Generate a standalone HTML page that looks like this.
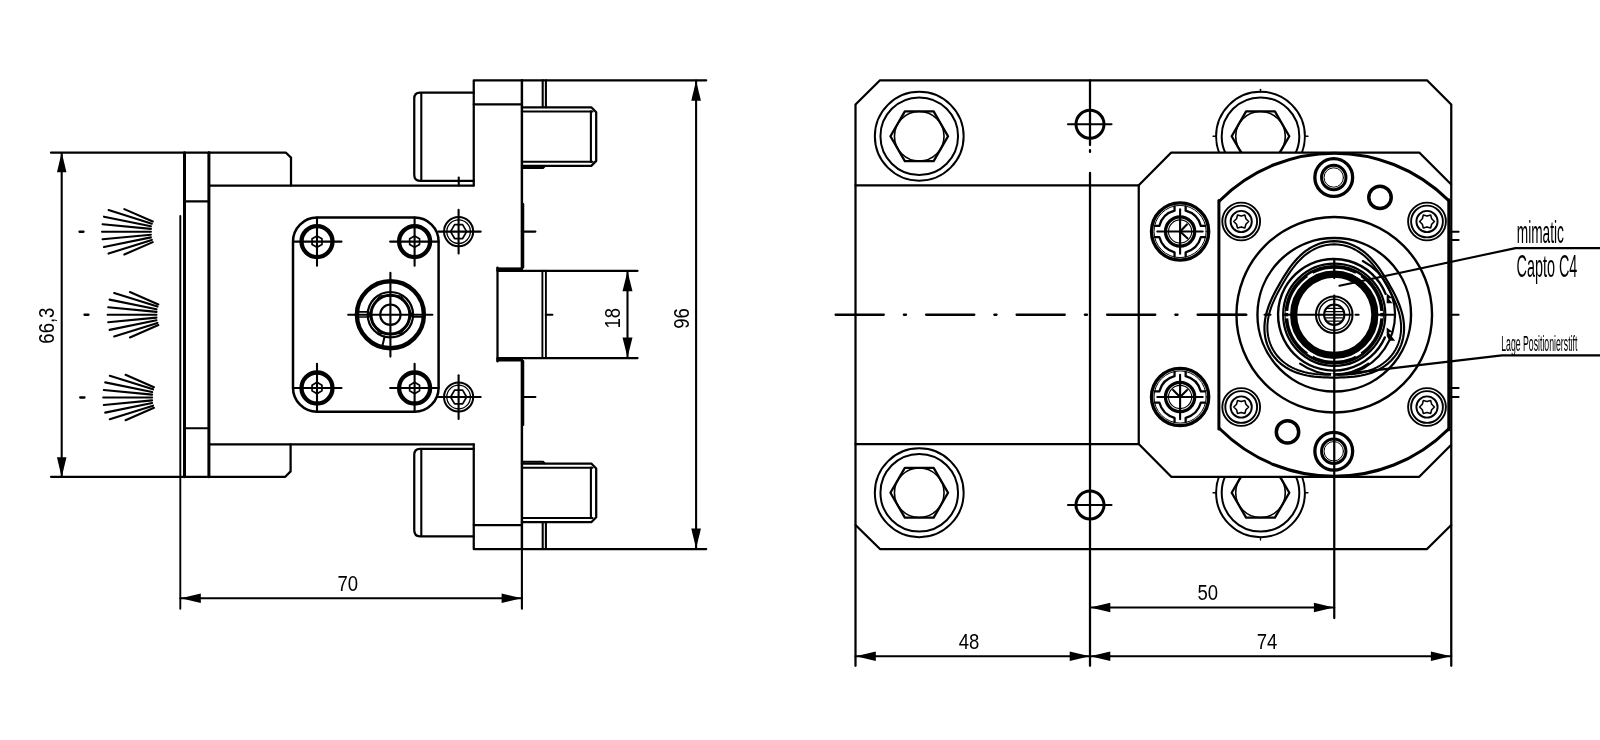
<!DOCTYPE html>
<html><head><meta charset="utf-8"><title>drawing</title>
<style>html,body{margin:0;padding:0;background:#fff;}svg{display:block;font-family:"Liberation Sans",sans-serif;}svg{filter:grayscale(1);}</style></head>
<body>
<svg width="1600" height="740" viewBox="0 0 1600 740" fill="none" stroke="#000" stroke-linecap="round" stroke-linejoin="round">
<rect x="0" y="0" width="1600" height="740" fill="#fff" stroke="none"/>
<line x1="51.00" y1="152.70" x2="209.00" y2="152.70" stroke-width="2.25" />
<line x1="51.00" y1="476.75" x2="209.00" y2="476.75" stroke-width="2.25" />
<line x1="61.70" y1="153.00" x2="61.70" y2="476.50" stroke-width="2.1" />
<polygon points="61.70,152.20 56.95,172.20 66.45,172.20" fill="#000" stroke="none"/>
<polygon points="61.70,477.20 56.95,457.20 66.45,457.20" fill="#000" stroke="none"/>
<text transform="translate(53.60,325.60) rotate(-90) scale(0.87,1)" font-size="21.3" text-anchor="middle" fill="#000" stroke="none">66,3</text>
<line x1="124.33" y1="209.12" x2="152.77" y2="221.48" stroke-width="2.1" stroke-linecap="round"/>
<line x1="108.56" y1="210.04" x2="151.84" y2="223.66" stroke-width="2.1" stroke-linecap="round"/>
<line x1="103.98" y1="216.66" x2="150.92" y2="226.24" stroke-width="2.1" stroke-linecap="round"/>
<line x1="102.60" y1="224.28" x2="150.90" y2="228.92" stroke-width="2.1" stroke-linecap="round"/>
<line x1="102.00" y1="231.80" x2="150.90" y2="231.80" stroke-width="2.1" stroke-linecap="round"/>
<line x1="124.33" y1="254.48" x2="152.77" y2="242.12" stroke-width="2.1" stroke-linecap="round"/>
<line x1="108.56" y1="253.56" x2="151.84" y2="239.94" stroke-width="2.1" stroke-linecap="round"/>
<line x1="103.98" y1="246.94" x2="150.92" y2="237.36" stroke-width="2.1" stroke-linecap="round"/>
<line x1="102.60" y1="239.32" x2="150.90" y2="234.68" stroke-width="2.1" stroke-linecap="round"/>
<line x1="79.50" y1="231.75" x2="83.50" y2="231.75" stroke-width="2.3" />
<line x1="129.93" y1="292.07" x2="158.37" y2="304.43" stroke-width="2.1" stroke-linecap="round"/>
<line x1="114.16" y1="292.99" x2="157.44" y2="306.61" stroke-width="2.1" stroke-linecap="round"/>
<line x1="109.58" y1="299.61" x2="156.52" y2="309.19" stroke-width="2.1" stroke-linecap="round"/>
<line x1="108.20" y1="307.23" x2="156.50" y2="311.87" stroke-width="2.1" stroke-linecap="round"/>
<line x1="107.60" y1="314.75" x2="156.50" y2="314.75" stroke-width="2.1" stroke-linecap="round"/>
<line x1="129.93" y1="337.43" x2="158.37" y2="325.07" stroke-width="2.1" stroke-linecap="round"/>
<line x1="114.16" y1="336.51" x2="157.44" y2="322.89" stroke-width="2.1" stroke-linecap="round"/>
<line x1="109.58" y1="329.89" x2="156.52" y2="320.31" stroke-width="2.1" stroke-linecap="round"/>
<line x1="108.20" y1="322.27" x2="156.50" y2="317.63" stroke-width="2.1" stroke-linecap="round"/>
<line x1="84.50" y1="314.75" x2="88.50" y2="314.75" stroke-width="2.3" />
<line x1="125.53" y1="374.82" x2="153.97" y2="387.18" stroke-width="2.1" stroke-linecap="round"/>
<line x1="109.76" y1="375.74" x2="153.04" y2="389.36" stroke-width="2.1" stroke-linecap="round"/>
<line x1="105.18" y1="382.36" x2="152.12" y2="391.94" stroke-width="2.1" stroke-linecap="round"/>
<line x1="103.80" y1="389.98" x2="152.10" y2="394.62" stroke-width="2.1" stroke-linecap="round"/>
<line x1="103.20" y1="397.50" x2="152.10" y2="397.50" stroke-width="2.1" stroke-linecap="round"/>
<line x1="125.53" y1="420.18" x2="153.97" y2="407.82" stroke-width="2.1" stroke-linecap="round"/>
<line x1="109.76" y1="419.26" x2="153.04" y2="405.64" stroke-width="2.1" stroke-linecap="round"/>
<line x1="105.18" y1="412.64" x2="152.12" y2="403.06" stroke-width="2.1" stroke-linecap="round"/>
<line x1="103.80" y1="405.02" x2="152.10" y2="400.38" stroke-width="2.1" stroke-linecap="round"/>
<line x1="80.20" y1="397.50" x2="84.50" y2="397.50" stroke-width="2.3" />
<line x1="184.50" y1="152.70" x2="184.50" y2="476.75" stroke-width="3.0" />
<line x1="208.90" y1="152.70" x2="208.90" y2="476.75" stroke-width="3.0" />
<line x1="184.50" y1="201.40" x2="208.90" y2="201.40" stroke-width="2.1" />
<line x1="184.50" y1="428.30" x2="208.90" y2="428.30" stroke-width="2.1" />
<line x1="180.30" y1="216.00" x2="180.30" y2="608.75" stroke-width="1.9" />
<path d="M208.9 152.7 H286 L291 157.6 V185.5" stroke-width="2.25" />
<path d="M208.9 476.75 H285.3 L290.6 471.4 V444.25" stroke-width="2.25" />
<line x1="208.90" y1="185.50" x2="473.75" y2="185.50" stroke-width="2.25" />
<line x1="208.90" y1="444.25" x2="473.75" y2="444.25" stroke-width="2.25" />
<path d="M473.75 185.5 V80.25 H706.2" stroke-width="2.25" />
<path d="M473.75 444.25 V549 H706.2" stroke-width="2.25" />
<line x1="473.75" y1="104.25" x2="521.75" y2="104.25" stroke-width="2.25" />
<line x1="473.75" y1="525.00" x2="521.75" y2="525.00" stroke-width="2.25" />
<line x1="521.90" y1="80.25" x2="521.90" y2="268.00" stroke-width="2.45" />
<line x1="521.90" y1="361.00" x2="521.90" y2="549.00" stroke-width="2.45" />
<line x1="521.90" y1="549.00" x2="521.90" y2="608.75" stroke-width="2.1" />
<line x1="523.30" y1="204.00" x2="523.30" y2="267.50" stroke-width="1.9" />
<line x1="523.30" y1="361.00" x2="523.30" y2="425.00" stroke-width="1.9" />
<path d="M473.75 92.5 H420 Q414.25 92.5 414.25 98.5 V174.75 Q414.25 180.75 420 180.75 H473.75" stroke-width="2.25" />
<line x1="421.30" y1="93.50" x2="421.30" y2="179.75" stroke-width="2.1" />
<path d="M473.75 448.75 H420 Q414.25 448.75 414.25 454.75 V530.25 Q414.25 536.25 420 536.25 H473.75" stroke-width="2.25" />
<line x1="421.30" y1="449.75" x2="421.30" y2="535.25" stroke-width="2.1" />
<line x1="458.75" y1="177.50" x2="458.75" y2="185.50" stroke-width="2.1" />
<path d="M521.9 107.3 H591.3 L596.2 112.3 V160.9 L591.3 165.9 H521.9" stroke-width="2.25" />
<line x1="521.90" y1="111.50" x2="592.50" y2="111.50" stroke-width="2.1" />
<line x1="521.90" y1="161.70" x2="592.50" y2="161.70" stroke-width="2.1" />
<line x1="590.90" y1="111.30" x2="590.90" y2="161.90" stroke-width="2.1" />
<path d="M521.9 463.5 H591.3 L596.2 468.5 V517.2 L591.3 522.2 H521.9" stroke-width="2.25" />
<line x1="521.90" y1="467.70" x2="592.50" y2="467.70" stroke-width="2.1" />
<line x1="521.90" y1="518.00" x2="592.50" y2="518.00" stroke-width="2.1" />
<line x1="590.90" y1="467.50" x2="590.90" y2="518.20" stroke-width="2.1" />
<line x1="542.70" y1="80.25" x2="542.70" y2="107.30" stroke-width="2.1" />
<line x1="545.90" y1="80.25" x2="545.90" y2="107.30" stroke-width="2.1" />
<line x1="542.70" y1="522.20" x2="542.70" y2="549.00" stroke-width="2.1" />
<line x1="545.90" y1="522.20" x2="545.90" y2="549.00" stroke-width="2.1" />
<path d="M521.9 168 H543 L544.5 166.5" stroke-width="2.1" />
<path d="M521.9 461.7 H543 L544.5 463.2" stroke-width="2.1" />
<line x1="496.40" y1="269.20" x2="523.00" y2="269.20" stroke-width="3.6" stroke-linecap="butt"/>
<line x1="496.40" y1="359.70" x2="523.00" y2="359.70" stroke-width="3.6" stroke-linecap="butt"/>
<line x1="497.50" y1="267.50" x2="497.50" y2="361.40" stroke-width="2.25" />
<line x1="497.50" y1="270.75" x2="637.50" y2="270.75" stroke-width="2.25" />
<line x1="497.50" y1="358.00" x2="637.50" y2="358.00" stroke-width="2.25" />
<line x1="542.40" y1="270.75" x2="542.40" y2="358.00" stroke-width="1.9" />
<line x1="545.90" y1="270.75" x2="545.90" y2="358.00" stroke-width="1.9" />
<line x1="545.80" y1="314.75" x2="552.40" y2="314.75" stroke-width="2.1" />
<line x1="627.50" y1="271.00" x2="627.50" y2="358.00" stroke-width="2.1" />
<polygon points="627.50,271.30 622.50,291.30 632.50,291.30" fill="#000" stroke="none"/>
<polygon points="627.50,357.50 622.50,337.50 632.50,337.50" fill="#000" stroke="none"/>
<text transform="translate(620.00,318.20) rotate(-90) scale(0.87,1)" font-size="21.3" text-anchor="middle" fill="#000" stroke="none">18</text>
<text transform="translate(688.80,318.40) rotate(-90) scale(0.87,1)" font-size="21.3" text-anchor="middle" fill="#000" stroke="none">96</text>
<line x1="696.10" y1="80.50" x2="696.10" y2="549.00" stroke-width="2.1" />
<polygon points="696.10,80.80 691.25,100.80 700.95,100.80" fill="#000" stroke="none"/>
<polygon points="696.10,548.50 691.25,528.50 700.95,528.50" fill="#000" stroke="none"/>
<line x1="180.40" y1="598.25" x2="522.00" y2="598.25" stroke-width="2.1" />
<polygon points="180.80,598.25 200.80,593.50 200.80,603.00" fill="#000" stroke="none"/>
<polygon points="521.60,598.25 501.60,593.50 501.60,603.00" fill="#000" stroke="none"/>
<text transform="translate(347.75,590.75) scale(0.87,1)" font-size="21.3" text-anchor="middle" fill="#000" stroke="none">70</text>
<rect x="293" y="217.5" width="145.6" height="194.25" rx="24" ry="24" stroke-width="2.5"/>
<circle cx="317.00" cy="241.60" r="15.50" stroke-width="4.3" />
<polygon points="321.94,244.45 317.00,247.30 312.06,244.45 312.06,238.75 317.00,235.90 321.94,238.75" stroke-width="1.7" />
<line x1="293.00" y1="241.60" x2="341.50" y2="241.60" stroke-width="2.1" />
<line x1="317.00" y1="217.50" x2="317.00" y2="265.80" stroke-width="2.1" />
<circle cx="317.00" cy="388.00" r="15.50" stroke-width="4.3" />
<polygon points="321.94,390.85 317.00,393.70 312.06,390.85 312.06,385.15 317.00,382.30 321.94,385.15" stroke-width="1.7" />
<line x1="293.00" y1="388.00" x2="341.50" y2="388.00" stroke-width="2.1" />
<line x1="317.00" y1="411.75" x2="317.00" y2="363.80" stroke-width="2.1" />
<circle cx="414.60" cy="241.60" r="15.50" stroke-width="4.3" />
<polygon points="419.54,244.45 414.60,247.30 409.66,244.45 409.66,238.75 414.60,235.90 419.54,238.75" stroke-width="1.7" />
<line x1="438.60" y1="241.60" x2="390.10" y2="241.60" stroke-width="2.1" />
<line x1="414.60" y1="217.50" x2="414.60" y2="265.80" stroke-width="2.1" />
<circle cx="414.60" cy="388.00" r="15.50" stroke-width="4.3" />
<polygon points="419.54,390.85 414.60,393.70 409.66,390.85 409.66,385.15 414.60,382.30 419.54,385.15" stroke-width="1.7" />
<line x1="438.60" y1="388.00" x2="390.10" y2="388.00" stroke-width="2.1" />
<line x1="414.60" y1="411.75" x2="414.60" y2="363.80" stroke-width="2.1" />
<circle cx="390.40" cy="314.70" r="33.50" stroke-width="4.4" />
<circle cx="390.40" cy="314.70" r="22.70" stroke-width="2.2" />
<polygon points="412.20,314.70 401.30,333.58 379.50,333.58 368.60,314.70 379.50,295.82 401.30,295.82" stroke-width="1.3" />
<circle cx="390.40" cy="314.70" r="19.40" stroke-width="3.0" />
<circle cx="390.40" cy="314.70" r="10.20" stroke-width="2.1" />
<line x1="348.20" y1="314.70" x2="432.40" y2="314.70" stroke-width="2.1" />
<line x1="390.40" y1="272.80" x2="390.40" y2="356.60" stroke-width="2.1" />
<line x1="358.50" y1="311.80" x2="367.50" y2="311.80" stroke-width="1.7" />
<line x1="358.50" y1="317.00" x2="367.50" y2="317.00" stroke-width="1.7" />
<line x1="413.60" y1="316.90" x2="422.80" y2="316.90" stroke-width="1.7" />
<line x1="384.60" y1="336.50" x2="382.50" y2="345.40" stroke-width="2.0" />
<circle cx="458.60" cy="231.60" r="14.60" stroke-width="2.0" />
<circle cx="458.60" cy="231.60" r="11.80" stroke-width="1.3" />
<polygon points="466.60,231.60 462.60,238.53 454.60,238.53 450.60,231.60 454.60,224.67 462.60,224.67" stroke-width="1.7" />
<line x1="438.30" y1="231.60" x2="480.70" y2="231.60" stroke-width="2.1" />
<line x1="458.60" y1="209.90" x2="458.60" y2="253.50" stroke-width="2.1" />
<line x1="521.90" y1="231.60" x2="535.40" y2="231.60" stroke-width="2.1" />
<circle cx="458.60" cy="397.00" r="14.60" stroke-width="2.0" />
<circle cx="458.60" cy="397.00" r="11.80" stroke-width="1.3" />
<polygon points="466.60,397.00 462.60,403.93 454.60,403.93 450.60,397.00 454.60,390.07 462.60,390.07" stroke-width="1.7" />
<line x1="438.30" y1="397.00" x2="480.70" y2="397.00" stroke-width="2.1" />
<line x1="458.60" y1="375.30" x2="458.60" y2="418.90" stroke-width="2.1" />
<line x1="521.90" y1="397.00" x2="535.40" y2="397.00" stroke-width="2.1" />
<defs><clipPath id="cTop"><rect x="1200" y="80" width="130" height="72.5"/></clipPath><clipPath id="cBot"><rect x="1200" y="476.75" width="130" height="72"/></clipPath><clipPath id="cFl"><rect x="1218.9" y="140" width="229.9" height="350"/></clipPath></defs>
<path d="M880 80.25 H1427 L1451.25 104.5 V525 L1427 549 H880 L855.5 525 V104.5 Z" stroke-width="2.25" />
<line x1="855.50" y1="525.00" x2="855.50" y2="665.80" stroke-width="2.25" />
<line x1="1451.25" y1="525.00" x2="1451.25" y2="665.80" stroke-width="2.25" />
<path d="M855.5 185.25 H1138.75 L1171.25 152.5 H1419.25 L1451 184.2" stroke-width="2.25" />
<path d="M855.5 444 H1138.75 L1171.25 476.75 H1419.25 L1451 445" stroke-width="2.25" />
<line x1="1138.75" y1="185.25" x2="1138.75" y2="444.00" stroke-width="2.25" />
<line x1="1090.00" y1="80.25" x2="1090.00" y2="145.00" stroke-width="2.25" />
<line x1="1090.00" y1="150.10" x2="1090.00" y2="151.90" stroke-width="2.25" />
<line x1="1090.00" y1="172.90" x2="1090.00" y2="665.80" stroke-width="2.25" />
<line x1="835.6" y1="314.75" x2="1284" y2="314.75" stroke-width="2.3" stroke-linecap="round" stroke-dasharray="48.2 20.05 2.2 20.05"/>
<circle cx="919.25" cy="136.25" r="44.40" stroke-width="2.0" />
<circle cx="919.25" cy="136.25" r="38.80" stroke-width="2.0" />
<polygon points="948.05,136.25 933.65,161.19 904.85,161.19 890.45,136.25 904.85,111.31 933.65,111.31" stroke-width="2.3" />
<circle cx="919.25" cy="136.25" r="24.80" stroke-width="1.6" />
<circle cx="919.25" cy="492.75" r="44.40" stroke-width="2.0" />
<circle cx="919.25" cy="492.75" r="38.80" stroke-width="2.0" />
<polygon points="948.05,492.75 933.65,517.69 904.85,517.69 890.45,492.75 904.85,467.81 933.65,467.81" stroke-width="2.3" />
<circle cx="919.25" cy="492.75" r="24.80" stroke-width="1.6" />
<circle cx="1260.50" cy="136.25" r="44.40" stroke-width="2.0" clip-path="url(#cTop)"/>
<circle cx="1260.50" cy="136.25" r="38.80" stroke-width="2.0" clip-path="url(#cTop)"/>
<polygon points="1289.30,136.25 1274.90,161.19 1246.10,161.19 1231.70,136.25 1246.10,111.31 1274.90,111.31" stroke-width="2.3" clip-path="url(#cTop)"/>
<circle cx="1260.50" cy="136.25" r="24.80" stroke-width="1.6" clip-path="url(#cTop)"/>
<circle cx="1260.50" cy="492.75" r="44.40" stroke-width="2.0" clip-path="url(#cBot)"/>
<circle cx="1260.50" cy="492.75" r="38.80" stroke-width="2.0" clip-path="url(#cBot)"/>
<polygon points="1289.30,492.75 1274.90,517.69 1246.10,517.69 1231.70,492.75 1246.10,467.81 1274.90,467.81" stroke-width="2.3" clip-path="url(#cBot)"/>
<circle cx="1260.50" cy="492.75" r="24.80" stroke-width="1.6" clip-path="url(#cBot)"/>
<line x1="1260.50" y1="89.30" x2="1260.50" y2="92.00" stroke-width="1.3" />
<line x1="1213.00" y1="136.25" x2="1216.00" y2="136.25" stroke-width="1.3" />
<line x1="1305.20" y1="136.25" x2="1308.00" y2="136.25" stroke-width="1.3" />
<line x1="1260.50" y1="537.20" x2="1260.50" y2="540.00" stroke-width="1.3" />
<line x1="1213.00" y1="492.75" x2="1216.00" y2="492.75" stroke-width="1.3" />
<line x1="1305.20" y1="492.75" x2="1308.00" y2="492.75" stroke-width="1.3" />
<circle cx="1090.00" cy="124.25" r="14.00" stroke-width="3.0" />
<line x1="1068.00" y1="124.25" x2="1111.50" y2="124.25" stroke-width="2.1" />
<circle cx="1090.00" cy="505.00" r="14.00" stroke-width="3.0" />
<line x1="1068.00" y1="505.00" x2="1111.50" y2="505.00" stroke-width="2.1" />
<circle cx="1180.10" cy="231.50" r="28.60" stroke-width="3.4" />
<circle cx="1180.10" cy="231.50" r="26.10" stroke-width="1.0" />
<path d="M1205.17 237.06 L1200.87 237.06 A21.5 21.5 0 0 1 1185.66 252.27 L1185.66 256.57" stroke-width="2.3" />
<path d="M1174.54 256.57 L1174.54 252.27 A21.5 21.5 0 0 1 1159.33 237.06 L1155.03 237.06" stroke-width="2.3" />
<path d="M1155.03 225.94 L1159.33 225.94 A21.5 21.5 0 0 1 1174.54 210.73 L1174.54 206.43" stroke-width="2.3" />
<path d="M1185.66 206.43 L1185.66 210.73 A21.5 21.5 0 0 1 1200.87 225.94 L1205.17 225.94" stroke-width="2.3" />
<circle cx="1180.10" cy="231.50" r="14.60" stroke-width="3.3" />
<circle cx="1180.10" cy="231.50" r="11.60" stroke-width="1.1" />
<line x1="1157.30" y1="231.50" x2="1202.70" y2="231.50" stroke-width="2.1" />
<line x1="1180.10" y1="209.30" x2="1180.10" y2="253.70" stroke-width="2.1" />
<line x1="1180.10" y1="231.50" x2="1186.90" y2="224.40" stroke-width="2.1" />
<line x1="1180.10" y1="231.50" x2="1187.40" y2="238.30" stroke-width="2.1" />
<circle cx="1180.10" cy="397.00" r="28.60" stroke-width="3.4" />
<circle cx="1180.10" cy="397.00" r="26.10" stroke-width="1.0" />
<path d="M1205.17 402.56 L1200.87 402.56 A21.5 21.5 0 0 1 1185.66 417.77 L1185.66 422.07" stroke-width="2.3" />
<path d="M1174.54 422.07 L1174.54 417.77 A21.5 21.5 0 0 1 1159.33 402.56 L1155.03 402.56" stroke-width="2.3" />
<path d="M1155.03 391.44 L1159.33 391.44 A21.5 21.5 0 0 1 1174.54 376.23 L1174.54 371.93" stroke-width="2.3" />
<path d="M1185.66 371.93 L1185.66 376.23 A21.5 21.5 0 0 1 1200.87 391.44 L1205.17 391.44" stroke-width="2.3" />
<circle cx="1180.10" cy="397.00" r="14.60" stroke-width="3.3" />
<circle cx="1180.10" cy="397.00" r="11.60" stroke-width="1.1" />
<line x1="1157.30" y1="397.00" x2="1202.70" y2="397.00" stroke-width="2.1" />
<line x1="1180.10" y1="374.80" x2="1180.10" y2="419.20" stroke-width="2.1" />
<line x1="1180.10" y1="397.00" x2="1173.10" y2="390.00" stroke-width="2.1" />
<line x1="1180.10" y1="397.00" x2="1187.10" y2="390.00" stroke-width="2.1" />
<circle cx="1334.25" cy="314.75" r="161.60" stroke-width="3.0" clip-path="url(#cFl)"/>
<line x1="1218.90" y1="200.57" x2="1218.90" y2="428.93" stroke-width="3.0" />
<line x1="1448.80" y1="199.76" x2="1448.80" y2="429.74" stroke-width="3.0" />
<circle cx="1241.20" cy="221.50" r="18.90" stroke-width="1.9" />
<circle cx="1241.20" cy="221.50" r="15.90" stroke-width="1.9" />
<circle cx="1241.20" cy="221.50" r="10.60" stroke-width="1.9" />
<path d="M1248.60 221.50 L1245.88 224.20 L1244.90 227.91 L1241.20 226.90 L1237.50 227.91 L1236.52 224.20 L1233.80 221.50 L1236.52 218.80 L1237.50 215.09 L1241.20 216.10 L1244.90 215.09 L1245.88 218.80 Z" stroke-width="1.6" stroke-linejoin="round"/>
<circle cx="1427.00" cy="221.50" r="18.90" stroke-width="1.9" />
<circle cx="1427.00" cy="221.50" r="15.90" stroke-width="1.9" />
<circle cx="1427.00" cy="221.50" r="10.60" stroke-width="1.9" />
<path d="M1434.40 221.50 L1431.68 224.20 L1430.70 227.91 L1427.00 226.90 L1423.30 227.91 L1422.32 224.20 L1419.60 221.50 L1422.32 218.80 L1423.30 215.09 L1427.00 216.10 L1430.70 215.09 L1431.68 218.80 Z" stroke-width="1.6" stroke-linejoin="round"/>
<circle cx="1241.20" cy="407.00" r="18.90" stroke-width="1.9" />
<circle cx="1241.20" cy="407.00" r="15.90" stroke-width="1.9" />
<circle cx="1241.20" cy="407.00" r="10.60" stroke-width="1.9" />
<path d="M1248.60 407.00 L1245.88 409.70 L1244.90 413.41 L1241.20 412.40 L1237.50 413.41 L1236.52 409.70 L1233.80 407.00 L1236.52 404.30 L1237.50 400.59 L1241.20 401.60 L1244.90 400.59 L1245.88 404.30 Z" stroke-width="1.6" stroke-linejoin="round"/>
<circle cx="1427.00" cy="407.00" r="18.90" stroke-width="1.9" />
<circle cx="1427.00" cy="407.00" r="15.90" stroke-width="1.9" />
<circle cx="1427.00" cy="407.00" r="10.60" stroke-width="1.9" />
<path d="M1434.40 407.00 L1431.68 409.70 L1430.70 413.41 L1427.00 412.40 L1423.30 413.41 L1422.32 409.70 L1419.60 407.00 L1422.32 404.30 L1423.30 400.59 L1427.00 401.60 L1430.70 400.59 L1431.68 404.30 Z" stroke-width="1.6" stroke-linejoin="round"/>
<circle cx="1333.75" cy="177.50" r="18.90" stroke-width="3.3" />
<circle cx="1333.75" cy="177.50" r="12.20" stroke-width="3.0" />
<circle cx="1333.75" cy="177.50" r="9.70" stroke-width="1.0" />
<circle cx="1333.75" cy="451.25" r="18.90" stroke-width="3.3" />
<circle cx="1333.75" cy="451.25" r="12.20" stroke-width="3.0" />
<circle cx="1333.75" cy="451.25" r="9.70" stroke-width="1.0" />
<circle cx="1380.00" cy="197.40" r="11.20" stroke-width="3.5" />
<circle cx="1287.50" cy="431.90" r="11.20" stroke-width="3.5" />
<circle cx="1334.25" cy="314.75" r="97.80" stroke-width="2.4" />
<circle cx="1334.25" cy="314.75" r="76.80" stroke-width="2.4" />
<path d="M1334.25 241.15 L1338.10 241.32 L1341.92 241.82 L1345.67 242.64 L1349.34 243.77 L1352.89 245.19 L1356.31 246.87 L1359.57 248.79 L1362.67 250.92 L1365.60 253.23 L1368.35 255.69 L1370.93 258.26 L1373.36 260.93 L1375.63 263.65 L1377.76 266.43 L1379.77 269.23 L1381.69 272.04 L1383.51 274.86 L1385.27 277.68 L1386.97 280.51 L1388.64 283.35 L1390.26 286.21 L1391.86 289.10 L1393.43 292.03 L1394.96 295.03 L1396.44 298.09 L1397.85 301.23 L1399.19 304.46 L1400.42 307.80 L1401.51 311.22 L1402.45 314.75 L1403.20 318.36 L1403.74 322.05 L1404.03 325.80 L1404.06 329.59 L1403.81 333.39 L1403.27 337.17 L1402.41 340.91 L1401.25 344.58 L1399.77 348.13 L1397.99 351.55 L1395.92 354.80 L1393.58 357.86 L1390.99 360.70 L1388.18 363.31 L1385.17 365.67 L1382.01 367.79 L1378.71 369.66 L1375.32 371.27 L1371.85 372.66 L1368.35 373.81 L1364.83 374.76 L1361.31 375.53 L1357.81 376.13 L1354.34 376.59 L1350.91 376.94 L1347.52 377.19 L1344.17 377.36 L1340.84 377.47 L1337.54 377.53 L1334.25 377.55 L1330.96 377.53 L1327.66 377.47 L1324.33 377.36 L1320.98 377.19 L1317.59 376.94 L1314.16 376.59 L1310.69 376.13 L1307.19 375.53 L1303.67 374.76 L1300.15 373.81 L1296.65 372.66 L1293.18 371.27 L1289.79 369.66 L1286.49 367.79 L1283.33 365.67 L1280.32 363.31 L1277.51 360.70 L1274.92 357.86 L1272.58 354.80 L1270.51 351.55 L1268.73 348.13 L1267.25 344.58 L1266.09 340.91 L1265.23 337.17 L1264.69 333.39 L1264.44 329.59 L1264.47 325.80 L1264.76 322.05 L1265.30 318.36 L1266.05 314.75 L1266.99 311.22 L1268.08 307.80 L1269.31 304.46 L1270.65 301.23 L1272.06 298.09 L1273.54 295.03 L1275.07 292.03 L1276.64 289.10 L1278.24 286.21 L1279.86 283.35 L1281.53 280.51 L1283.23 277.68 L1284.99 274.86 L1286.81 272.04 L1288.73 269.23 L1290.74 266.43 L1292.87 263.65 L1295.14 260.93 L1297.57 258.26 L1300.15 255.69 L1302.90 253.23 L1305.83 250.92 L1308.93 248.79 L1312.19 246.87 L1315.61 245.19 L1319.16 243.77 L1322.83 242.64 L1326.58 241.82 L1330.40 241.32 Z" stroke-width="2.2" stroke-linejoin="round"/>
<path d="M1334.25 244.25 L1337.94 244.41 L1341.59 244.89 L1345.19 245.68 L1348.70 246.76 L1352.10 248.12 L1355.37 249.74 L1358.50 251.58 L1361.46 253.63 L1364.26 255.84 L1366.90 258.20 L1369.37 260.67 L1371.69 263.22 L1373.86 265.84 L1375.90 268.49 L1377.82 271.18 L1379.65 273.87 L1381.40 276.57 L1383.08 279.27 L1384.71 281.98 L1386.30 284.70 L1387.86 287.44 L1389.39 290.20 L1390.89 293.01 L1392.35 295.87 L1393.77 298.80 L1395.13 301.81 L1396.41 304.90 L1397.59 308.09 L1398.65 311.38 L1399.55 314.75 L1400.27 318.21 L1400.79 321.74 L1401.08 325.33 L1401.11 328.96 L1400.88 332.60 L1400.35 336.23 L1399.54 339.81 L1398.42 343.32 L1397.01 346.73 L1395.30 350.00 L1393.32 353.11 L1391.08 356.04 L1388.60 358.76 L1385.90 361.26 L1383.02 363.52 L1379.99 365.55 L1376.83 367.33 L1373.58 368.88 L1370.26 370.20 L1366.90 371.30 L1363.53 372.21 L1360.16 372.94 L1356.81 373.51 L1353.48 373.95 L1350.20 374.27 L1346.95 374.51 L1343.74 374.67 L1340.56 374.77 L1337.40 374.83 L1334.25 374.85 L1331.10 374.83 L1327.94 374.77 L1324.76 374.67 L1321.55 374.51 L1318.30 374.27 L1315.02 373.95 L1311.69 373.51 L1308.34 372.94 L1304.97 372.21 L1301.60 371.30 L1298.24 370.20 L1294.92 368.88 L1291.67 367.33 L1288.51 365.55 L1285.48 363.52 L1282.60 361.26 L1279.90 358.76 L1277.42 356.04 L1275.18 353.11 L1273.20 350.00 L1271.49 346.73 L1270.08 343.32 L1268.96 339.81 L1268.15 336.23 L1267.62 332.60 L1267.39 328.96 L1267.42 325.33 L1267.71 321.74 L1268.23 318.21 L1268.95 314.75 L1269.85 311.38 L1270.91 308.09 L1272.09 304.90 L1273.37 301.81 L1274.73 298.80 L1276.15 295.87 L1277.61 293.01 L1279.11 290.20 L1280.64 287.44 L1282.20 284.70 L1283.79 281.98 L1285.42 279.27 L1287.10 276.57 L1288.85 273.87 L1290.68 271.18 L1292.60 268.49 L1294.64 265.84 L1296.81 263.22 L1299.13 260.67 L1301.60 258.20 L1304.24 255.84 L1307.04 253.63 L1310.00 251.58 L1313.13 249.74 L1316.40 248.12 L1319.80 246.76 L1323.31 245.68 L1326.91 244.89 L1330.56 244.41 Z" stroke-width="2.0" stroke-linejoin="round"/>
<path d="M1384.83 337.45 A55.8 55.8 0 1 1 1385.59 293.85" stroke-width="2.4" />
<path d="M1362.79 261.07 A60.8 60.8 0 0 1 1346.89 374.22" stroke-width="2.2" />
<path d="M1368.44 363.57 A59.6 59.6 0 0 1 1300.06 363.57" stroke-width="2.2" />
<polygon points="1386.7,293.5 1392.4,298 1388.5,298.5 1392.6,303.2 1386.7,303.2" fill="#000" stroke="none"/>
<polygon points="1386.7,327.5 1392.8,332 1388.6,332.6 1395.2,340.7 1389.5,340.7 1386.7,336" fill="#000" stroke="none"/>
<circle cx="1334.25" cy="314.75" r="47.90" stroke-width="3.6" />
<circle cx="1334.25" cy="314.75" r="51.10" stroke-width="2.2" />
<circle cx="1334.25" cy="314.75" r="40.60" stroke-width="7.2" />
<path d="M1308.05 277.06 A45.9 45.9 0 0 1 1313.27 273.93" stroke-width="2.8" stroke="#fff" stroke-linecap="butt"/>
<path d="M1355.23 273.93 A45.9 45.9 0 0 1 1360.45 277.06" stroke-width="2.8" stroke="#fff" stroke-linecap="butt"/>
<path d="M1360.45 352.44 A45.9 45.9 0 0 1 1355.23 355.57" stroke-width="2.8" stroke="#fff" stroke-linecap="butt"/>
<path d="M1313.27 355.57 A45.9 45.9 0 0 1 1308.05 352.44" stroke-width="2.8" stroke="#fff" stroke-linecap="butt"/>
<rect x="1285.65" y="310.95" width="4.2" height="2.0" fill="#fff" stroke="none"/>
<rect x="1285.65" y="316.35" width="4.2" height="2.0" fill="#fff" stroke="none"/>
<rect x="1378.65" y="310.95" width="4.2" height="2.0" fill="#fff" stroke="none"/>
<rect x="1378.65" y="316.35" width="4.2" height="2.0" fill="#fff" stroke="none"/>
<rect x="1331.05" y="373.35" width="2.6" height="2.6" fill="#fff" stroke="none"/>
<circle cx="1334.25" cy="314.75" r="18.30" stroke-width="2.0" />
<circle cx="1334.25" cy="314.75" r="15.50" stroke-width="1.5" />
<circle cx="1334.25" cy="314.75" r="10.20" stroke-width="2.0" />
<line x1="1326.31" y1="308.35" x2="1342.19" y2="308.35" stroke-width="1.3" />
<line x1="1324.56" y1="311.55" x2="1343.94" y2="311.55" stroke-width="1.3" />
<line x1="1324.56" y1="317.95" x2="1343.94" y2="317.95" stroke-width="1.3" />
<line x1="1326.31" y1="321.15" x2="1342.19" y2="321.15" stroke-width="1.3" />
<line x1="1284.40" y1="314.75" x2="1352.00" y2="314.75" stroke-width="2.1" />
<line x1="1355.50" y1="314.75" x2="1358.60" y2="314.75" stroke-width="2.1" />
<line x1="1378.00" y1="314.75" x2="1394.50" y2="314.75" stroke-width="2.1" />
<line x1="1200.00" y1="314.75" x2="1246.50" y2="314.75" stroke-width="2.1" />
<line x1="1264.50" y1="314.75" x2="1270.50" y2="314.75" stroke-width="2.1" />
<line x1="1334.25" y1="259.30" x2="1334.25" y2="278.00" stroke-width="2.25" />
<line x1="1334.25" y1="295.50" x2="1334.25" y2="618.00" stroke-width="2.25" />
<line x1="1451.25" y1="231.75" x2="1458.60" y2="231.75" stroke-width="2.1" />
<line x1="1451.25" y1="240.00" x2="1458.60" y2="240.00" stroke-width="2.1" />
<line x1="1451.25" y1="314.75" x2="1458.60" y2="314.75" stroke-width="2.1" />
<line x1="1451.25" y1="388.00" x2="1458.60" y2="388.00" stroke-width="2.1" />
<line x1="1451.25" y1="397.00" x2="1458.60" y2="397.00" stroke-width="2.1" />
<path d="M1339.5 285.75 L1515.5 248.1 H1600" stroke-width="2.1" />
<path d="M1338 374.6 L1501.9 355.4 H1600" stroke-width="2.1" />
<text transform="translate(1516.80,243.20) scale(0.434,1)" font-size="31.5" text-anchor="start" fill="#000" stroke="none">mimatic</text>
<text transform="translate(1516.50,277.00) scale(0.454,1)" font-size="31.7" text-anchor="start" fill="#000" stroke="none">Capto C4</text>
<text transform="translate(1501.20,350.80) scale(0.397,1)" font-size="22" text-anchor="start" fill="#000" stroke="none">Lage Positionierstift</text>
<line x1="855.50" y1="656.25" x2="1090.00" y2="656.25" stroke-width="2.1" />
<polygon points="855.80,656.25 875.80,651.50 875.80,661.00" fill="#000" stroke="none"/>
<polygon points="1089.70,656.25 1069.70,651.50 1069.70,661.00" fill="#000" stroke="none"/>
<line x1="1090.00" y1="656.25" x2="1451.25" y2="656.25" stroke-width="2.1" />
<polygon points="1090.30,656.25 1110.30,651.50 1110.30,661.00" fill="#000" stroke="none"/>
<polygon points="1450.90,656.25 1430.90,651.50 1430.90,661.00" fill="#000" stroke="none"/>
<line x1="1090.00" y1="607.50" x2="1334.25" y2="607.50" stroke-width="2.1" />
<polygon points="1090.30,607.50 1110.30,602.75 1110.30,612.25" fill="#000" stroke="none"/>
<polygon points="1333.90,607.50 1313.90,602.75 1313.90,612.25" fill="#000" stroke="none"/>
<text transform="translate(969.00,648.75) scale(0.87,1)" font-size="21.3" text-anchor="middle" fill="#000" stroke="none">48</text>
<text transform="translate(1267.00,648.75) scale(0.87,1)" font-size="21.3" text-anchor="middle" fill="#000" stroke="none">74</text>
<text transform="translate(1207.70,600.00) scale(0.87,1)" font-size="21.3" text-anchor="middle" fill="#000" stroke="none">50</text>
</svg>
</body></html>
